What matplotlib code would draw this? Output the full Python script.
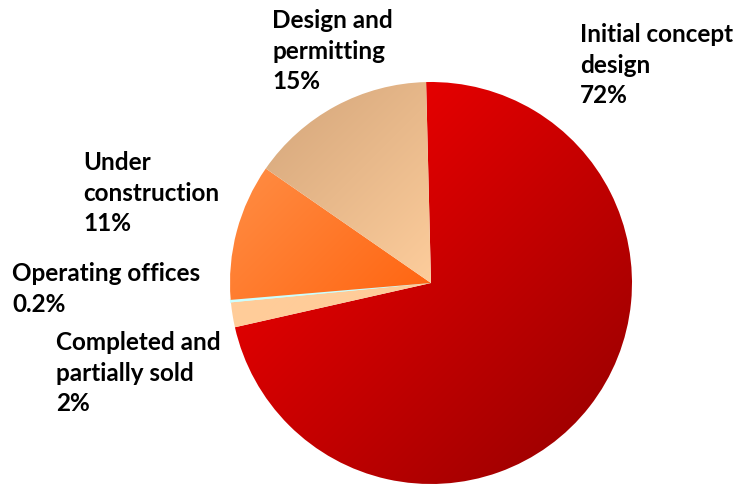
import numpy as np
import matplotlib.pyplot as plt
from matplotlib.colors import to_rgb

plt.rcParams['font.family'] = ['Lato', 'DejaVu Sans']

labels = ["Initial concept\ndesign", "Completed and\npartially sold",
          "Operating offices", "Under\nconstruction", "Design and\npermitting"]
shares = [72, 2, 0.2, 11, 15]
pct_text = ["72%", "2%", "0.2%", "11%", "15%"]

# fill gradient per slice: upper-left colour -> lower-right colour
grad_start = ["#FF0000", "#FFCC99", "#CCFFFF", "#FF8E45", "#D3A57A"]
grad_end = ["#920000", "#FFCC99", "#CCFFFF", "#FF6410", "#FDCD9C"]

# label corners (left, top) in pixels from the top-left
label_pos = [(580, 23), (56, 331), (12, 262), (83, 151), (272, 9)]

W, H = 742, 484
fig = plt.figure(figsize=(W / 100, H / 100), dpi=100)
ax = fig.add_axes([0, 0, 1, 1])

wedges, _ = ax.pie(shares, startangle=91.4, counterclock=False,
                   center=(431, H - 283), radius=201, frame=True,
                   wedgeprops=dict(linewidth=0))

# pixel grid for the gradient images (row 0 at the top)
xx, yy = np.meshgrid(np.arange(W) + 0.5, H - (np.arange(H) + 0.5))

for w, c0, c1 in zip(wedges, grad_start, grad_end):
    v = w.get_path().vertices
    x0, x1 = v[:, 0].min(), v[:, 0].max()
    y0, y1 = v[:, 1].min(), v[:, 1].max()
    t = ((xx - x0) + (y1 - yy)) / ((x1 - x0) + (y1 - y0))
    t = np.clip(t, 0, 1)[..., None]
    img = np.array(to_rgb(c0)) * (1 - t) + np.array(to_rgb(c1)) * t
    im = ax.imshow(img, extent=(0, W, 0, H), origin='upper', zorder=1)
    im.set_clip_path(w)
    w.set_facecolor('none')

# the tiny slice needs an outline to stay visible
wedges[2].set_edgecolor(grad_start[2])
wedges[2].set_linewidth(1.2)

for lab, pct, (lx, ly) in zip(labels, pct_text, label_pos):
    ax.text(lx, H - ly, lab + "\n" + pct, ha='left', va='top',
            fontsize=17.5, fontweight='bold', linespacing=1.4, color='black')

ax.set_xlim(0, W)
ax.set_ylim(0, H)
ax.axis('off')

fig.savefig("out.png", dpi=100, facecolor='white')
